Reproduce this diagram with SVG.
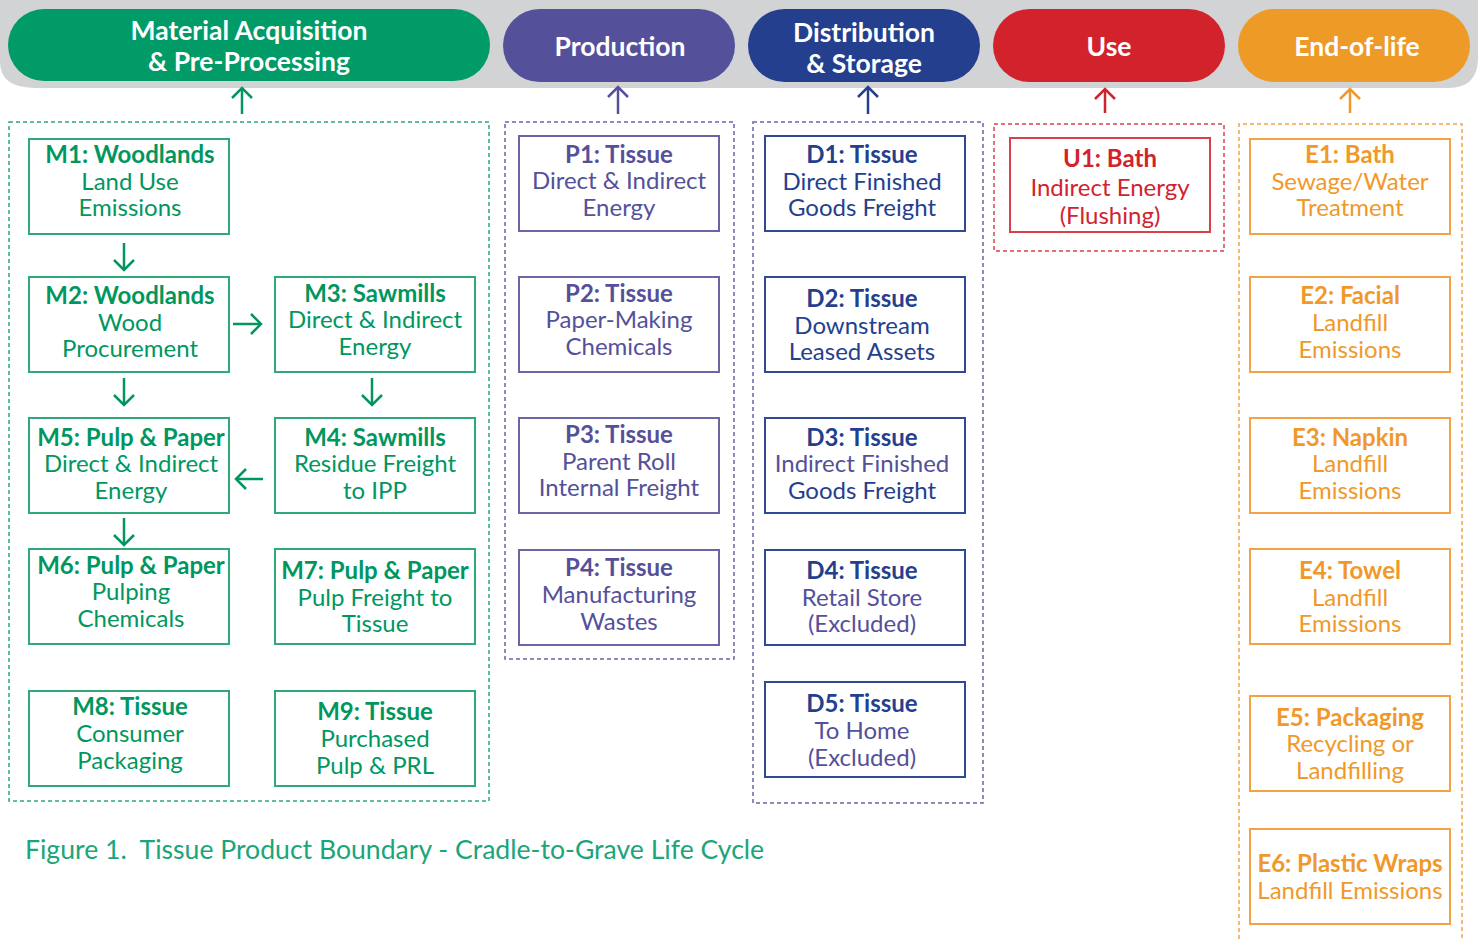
<svg xmlns="http://www.w3.org/2000/svg" width="1478" height="939" viewBox="0 0 1478 939">
<style>
text{font-family:Lato,"Open Sans","Liberation Sans",sans-serif;text-anchor:middle}
.hd{font-size:26.5px;font-weight:700;fill:#fff}
.t{font-size:24px;font-weight:700}
.b{font-size:24px;font-weight:400}
.box{fill:#fff;stroke-width:2}
.dash{fill:none;stroke-width:1.5;stroke-dasharray:4 3}
.g text{fill:#00975F}.g .box{stroke:#2FA978}
.p text{fill:#55509A}.p .box{stroke:#6A66A6}
.d text{fill:#243F8E}.d .box{stroke:#2F4A93}.d .lt{fill:#55509A}
.r text{fill:#D2232D}.r .box{stroke:#D9414A}
.o text{fill:#F0992A}.o .box{stroke:#F2A445}
.ar{fill:none;stroke-width:2.5}
</style>
<defs>
<marker id="hg" viewBox="0 0 14 24" refX="12" refY="12" markerWidth="14" markerHeight="24" markerUnits="userSpaceOnUse" orient="auto"><path d="M2,2 L12,12 L2,22" fill="none" stroke="#00975F" stroke-width="2.5"/></marker>
<marker id="hp" viewBox="0 0 14 24" refX="12" refY="12" markerWidth="14" markerHeight="24" markerUnits="userSpaceOnUse" orient="auto"><path d="M2,2 L12,12 L2,22" fill="none" stroke="#55509A" stroke-width="2.5"/></marker>
<marker id="hd" viewBox="0 0 14 24" refX="12" refY="12" markerWidth="14" markerHeight="24" markerUnits="userSpaceOnUse" orient="auto"><path d="M2,2 L12,12 L2,22" fill="none" stroke="#243F8E" stroke-width="2.5"/></marker>
<marker id="hr" viewBox="0 0 14 24" refX="12" refY="12" markerWidth="14" markerHeight="24" markerUnits="userSpaceOnUse" orient="auto"><path d="M2,2 L12,12 L2,22" fill="none" stroke="#D2232D" stroke-width="2.5"/></marker>
<marker id="ho" viewBox="0 0 14 24" refX="12" refY="12" markerWidth="14" markerHeight="24" markerUnits="userSpaceOnUse" orient="auto"><path d="M2,2 L12,12 L2,22" fill="none" stroke="#F0992A" stroke-width="2.5"/></marker>
</defs>
<rect width="1478" height="939" fill="#fff"/>
<path d="M0,0 H1478 V58 Q1478,88 1448,88 H36 Q0,88 0,62 Z" fill="#D1D3D4"/>

<g id="stage-material"><rect x="8" y="9" width="482" height="72" rx="36" fill="#009B67"/><text class="hd" x="249" y="40">Material Acquisition</text><text class="hd" x="249" y="71">&amp; Pre-Processing</text></g>
<g id="stage-production"><rect x="503" y="9" width="232" height="73" rx="36.5" fill="#55509A"/><text class="hd" x="620" y="56">Production</text></g>
<g id="stage-distribution"><rect x="748" y="9" width="232" height="73" rx="36.5" fill="#243F8E"/><text class="hd" x="864" y="42">Distribution</text><text class="hd" x="864" y="73">&amp; Storage</text></g>
<g id="stage-use"><rect x="993" y="9" width="232" height="73" rx="36.5" fill="#D2232D"/><text class="hd" x="1109" y="56">Use</text></g>
<g id="stage-eol"><rect x="1238" y="9" width="232" height="73" rx="36.5" fill="#EE9A26"/><text class="hd" x="1357" y="56">End-of-life</text></g>

<g id="boundaries">
<rect class="dash" x="9" y="122" width="480" height="679" stroke="#2FA978"/>
<rect class="dash" x="505" y="122" width="229" height="537" stroke="#6A66A6"/>
<rect class="dash" x="753" y="122" width="230" height="681" stroke="#6A66A6"/>
<rect class="dash" x="994" y="124" width="230" height="127" stroke="#D9414A"/>
<path class="dash" d="M1239,939 V124 H1462 V939" stroke="#F2A445"/>
</g>

<g class="g">
<g id="M1"><rect class="box" x="29" y="139" width="200" height="95"/><text class="t" x="130" y="163">M1: Woodlands</text><text class="b" x="130" y="190">Land Use</text><text class="b" x="130" y="216">Emissions</text></g>
<g id="M2"><rect class="box" x="29" y="277" width="200" height="95"/><text class="t" x="130" y="304">M2: Woodlands</text><text class="b" x="130" y="331">Wood</text><text class="b" x="130" y="357">Procurement</text></g>
<g id="M3"><rect class="box" x="275" y="277" width="200" height="95"/><text class="t" x="375" y="302">M3: Sawmills</text><text class="b" x="375" y="328">Direct &amp; Indirect</text><text class="b" x="375" y="355">Energy</text></g>
<g id="M4"><rect class="box" x="275" y="418" width="200" height="95"/><text class="t" x="375" y="446">M4: Sawmills</text><text class="b" x="375" y="472">Residue Freight</text><text class="b" x="375" y="499">to IPP</text></g>
<g id="M5"><rect class="box" x="29" y="418" width="200" height="95"/><text class="t" x="131" y="446">M5: Pulp &amp; Paper</text><text class="b" x="131" y="472">Direct &amp; Indirect</text><text class="b" x="131" y="499">Energy</text></g>
<g id="M6"><rect class="box" x="29" y="549" width="200" height="95"/><text class="t" x="131" y="574">M6: Pulp &amp; Paper</text><text class="b" x="131" y="600">Pulping</text><text class="b" x="131" y="627">Chemicals</text></g>
<g id="M7"><rect class="box" x="275" y="549" width="200" height="95"/><text class="t" x="375" y="579">M7: Pulp &amp; Paper</text><text class="b" x="375" y="606">Pulp Freight to</text><text class="b" x="375" y="632">Tissue</text></g>
<g id="M8"><rect class="box" x="29" y="691" width="200" height="95"/><text class="t" x="130" y="715">M8: Tissue</text><text class="b" x="130" y="742">Consumer</text><text class="b" x="130" y="769">Packaging</text></g>
<g id="M9"><rect class="box" x="275" y="691" width="200" height="95"/><text class="t" x="375" y="720">M9: Tissue</text><text class="b" x="375" y="747">Purchased</text><text class="b" x="375" y="774">Pulp &amp; PRL</text></g>
</g>

<g class="p">
<g id="P1"><rect class="box" x="519" y="136" width="200" height="95"/><text class="t" x="619" y="163">P1: Tissue</text><text class="b" x="619" y="189">Direct &amp; Indirect</text><text class="b" x="619" y="216">Energy</text></g>
<g id="P2"><rect class="box" x="519" y="277" width="200" height="95"/><text class="t" x="619" y="302">P2: Tissue</text><text class="b" x="619" y="328">Paper-Making</text><text class="b" x="619" y="355">Chemicals</text></g>
<g id="P3"><rect class="box" x="519" y="418" width="200" height="95"/><text class="t" x="619" y="443">P3: Tissue</text><text class="b" x="619" y="470">Parent Roll</text><text class="b" x="619" y="496">Internal Freight</text></g>
<g id="P4"><rect class="box" x="519" y="550" width="200" height="95"/><text class="t" x="619" y="576">P4: Tissue</text><text class="b" x="619" y="603">Manufacturing</text><text class="b" x="619" y="630">Wastes</text></g>
</g>

<g class="d">
<g id="D1"><rect class="box" x="765" y="136" width="200" height="95"/><text class="t" x="862" y="163">D1: Tissue</text><text class="b" x="862" y="190">Direct Finished</text><text class="b" x="862" y="216">Goods Freight</text></g>
<g id="D2"><rect class="box" x="765" y="277" width="200" height="95"/><text class="t" x="862" y="307">D2: Tissue</text><text class="b" x="862" y="334">Downstream</text><text class="b" x="862" y="360">Leased Assets</text></g>
<g id="D3"><rect class="box" x="765" y="418" width="200" height="95"/><text class="t" x="862" y="446">D3: Tissue</text><text class="b lt" x="862" y="472">Indirect Finished</text><text class="b" x="862" y="499">Goods Freight</text></g>
<g id="D4"><rect class="box" x="765" y="550" width="200" height="95"/><text class="t" x="862" y="579">D4: Tissue</text><text class="b lt" x="862" y="606">Retail Store</text><text class="b lt" x="862" y="632">(Excluded)</text></g>
<g id="D5"><rect class="box" x="765" y="682" width="200" height="95"/><text class="t" x="862" y="712">D5: Tissue</text><text class="b lt" x="862" y="739">To Home</text><text class="b lt" x="862" y="766">(Excluded)</text></g>
</g>

<g class="r">
<g id="U1"><rect class="box" x="1010" y="138" width="200" height="94"/><text class="t" x="1110" y="167">U1: Bath</text><text class="b" x="1110" y="196">Indirect Energy</text><text class="b" x="1110" y="224">(Flushing)</text></g>
</g>

<g class="o">
<g id="E1"><rect class="box" x="1250" y="139" width="200" height="95"/><text class="t" x="1350" y="163">E1: Bath</text><text class="b" x="1350" y="190">Sewage/Water</text><text class="b" x="1350" y="216">Treatment</text></g>
<g id="E2"><rect class="box" x="1250" y="277" width="200" height="95"/><text class="t" x="1350" y="304">E2: Facial</text><text class="b" x="1350" y="331">Landfill</text><text class="b" x="1350" y="358">Emissions</text></g>
<g id="E3"><rect class="box" x="1250" y="418" width="200" height="95"/><text class="t" x="1350" y="446">E3: Napkin</text><text class="b" x="1350" y="472">Landfill</text><text class="b" x="1350" y="499">Emissions</text></g>
<g id="E4"><rect class="box" x="1250" y="549" width="200" height="95"/><text class="t" x="1350" y="579">E4: Towel</text><text class="b" x="1350" y="606">Landfill</text><text class="b" x="1350" y="632">Emissions</text></g>
<g id="E5"><rect class="box" x="1250" y="696" width="200" height="95"/><text class="t" x="1350" y="726">E5: Packaging</text><text class="b" x="1350" y="752">Recycling or</text><text class="b" x="1350" y="779">Landfilling</text></g>
<g id="E6"><rect class="box" x="1250" y="829" width="200" height="95"/><text class="t" x="1350" y="872">E6: Plastic Wraps</text><text class="b" x="1350" y="899">Landfill Emissions</text></g>
</g>

<g id="connectors">
<line class="ar" x1="242" y1="114" x2="242" y2="88" stroke="#00975F" marker-end="url(#hg)"/>
<line class="ar" x1="618" y1="114" x2="618" y2="87" stroke="#55509A" marker-end="url(#hp)"/>
<line class="ar" x1="868" y1="114" x2="868" y2="87" stroke="#243F8E" marker-end="url(#hd)"/>
<line class="ar" x1="1105" y1="113" x2="1105" y2="89" stroke="#D2232D" marker-end="url(#hr)"/>
<line class="ar" x1="1350" y1="113" x2="1350" y2="89" stroke="#F0992A" marker-end="url(#ho)"/>
<line class="ar" x1="124" y1="243" x2="124" y2="270" stroke="#00975F" marker-end="url(#hg)"/>
<line class="ar" x1="233" y1="324" x2="261" y2="324" stroke="#00975F" marker-end="url(#hg)"/>
<line class="ar" x1="124" y1="378" x2="124" y2="405" stroke="#00975F" marker-end="url(#hg)"/>
<line class="ar" x1="372" y1="378" x2="372" y2="405" stroke="#00975F" marker-end="url(#hg)"/>
<line class="ar" x1="263" y1="479" x2="236" y2="479" stroke="#00975F" marker-end="url(#hg)"/>
<line class="ar" x1="124" y1="518" x2="124" y2="545" stroke="#00975F" marker-end="url(#hg)"/>
</g>

<text x="25" y="859" style="text-anchor:start;font-size:26.6px;fill:#1AA57A;white-space:pre" xml:space="preserve">Figure 1.  Tissue Product Boundary - Cradle-to-Grave Life Cycle</text>
</svg>
